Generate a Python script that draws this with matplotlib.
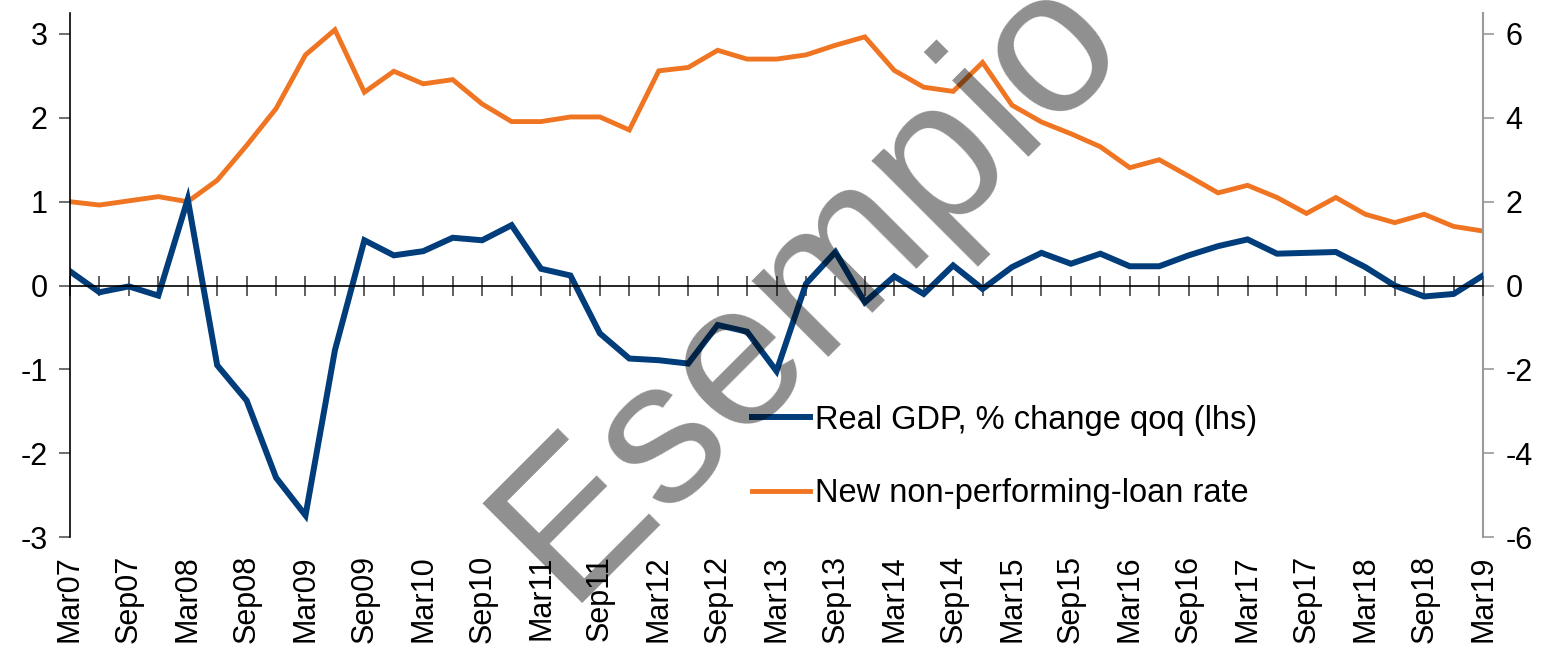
import matplotlib
matplotlib.use('Agg')
import matplotlib.pyplot as plt
from matplotlib.ticker import MultipleLocator

plt.rcParams['font.family'] = ['Liberation Sans', 'DejaVu Sans']
plt.rcParams['axes.unicode_minus'] = False

labels = ["Mar07", "Sep07", "Mar08", "Sep08", "Mar09", "Sep09", "Mar10", "Sep10",
          "Mar11", "Sep11", "Mar12", "Sep12", "Mar13", "Sep13", "Mar14", "Sep14",
          "Mar15", "Sep15", "Mar16", "Sep16", "Mar17", "Sep17", "Mar18", "Sep18",
          "Mar19"]

gdp = [0.17, -0.08, -0.01, -0.12, 1.03, -0.95, -1.37, -2.29, -2.74, -0.77,
       0.54, 0.36, 0.41, 0.57, 0.54, 0.72, 0.20, 0.12, -0.57, -0.87,
       -0.89, -0.93, -0.47, -0.55, -1.02, 0.02, 0.40, -0.20, 0.11, -0.10,
       0.24, -0.04, 0.22, 0.39, 0.26, 0.38, 0.23, 0.23, 0.36, 0.47,
       0.55, 0.38, 0.39, 0.40, 0.22, 0.00, -0.13, -0.10, 0.12]

npl = [2.00, 1.92, 2.02, 2.12, 2.00, 2.51, 3.34, 4.22, 5.50, 6.10,
       4.61, 5.11, 4.81, 4.91, 4.33, 3.91, 3.91, 4.02, 4.02, 3.71,
       5.12, 5.20, 5.61, 5.40, 5.40, 5.50, 5.73, 5.93, 5.13, 4.73,
       4.63, 5.32, 4.30, 3.90, 3.62, 3.31, 2.81, 3.00, 2.61, 2.21,
       2.39, 2.10, 1.72, 2.10, 1.70, 1.50, 1.70, 1.41, 1.30]

x = list(range(len(gdp)))
BLUE = '#003d7a'
ORANGE = '#f07522'
FS = 22

fig = plt.figure(figsize=(15.45, 6.48), dpi=100)
ax = fig.add_axes([0.0453, 0.171, 0.9146, 0.809])
ax2 = ax.twinx()
ax.set_zorder(ax2.get_zorder() + 1)
ax.patch.set_visible(False)

l2, = ax2.plot(x, npl, color=ORANGE, lw=3.5, solid_joinstyle='miter', label='New non-performing-loan rate')
l1, = ax.plot(x, gdp, color=BLUE, lw=4.3, solid_joinstyle='miter', label='Real GDP, % change qoq (lhs)')

ax.set_xlim(0, 48)
ax.set_ylim(-3, 3.25)
ax2.set_ylim(-6, 6.5)
ax.set_yticks([-3, -2, -1, 0, 1, 2, 3])
ax2.set_yticks([-6, -4, -2, 0, 2, 4, 6])

for s in ['top', 'right']:
    ax.spines[s].set_visible(False)
for s in ['top', 'left', 'bottom']:
    ax2.spines[s].set_visible(False)
ax.spines['bottom'].set_position(('data', 0))
ax.spines['bottom'].set_color('black')
ax.spines['bottom'].set_linewidth(1.2)
ax.spines['left'].set_color('black')
ax.spines['left'].set_linewidth(1.2)
ax2.spines['right'].set_color('#999999')
ax2.spines['right'].set_linewidth(1.5)

ax.xaxis.set_major_locator(MultipleLocator(1))
ax.tick_params(axis='x', direction='inout', length=14, width=1.2, color='#444444',
               labelbottom=False)
ax.tick_params(axis='y', direction='out', length=8, width=1.2, color='#555555',
               labelsize=FS, pad=8)
ax2.tick_params(axis='y', direction='out', length=8, width=1.2, color='#999999',
                labelsize=FS, pad=8)

sec = ax.secondary_xaxis('bottom')
sec.set_xticks(list(range(0, len(gdp), 2)))
sec.set_xticklabels(labels, rotation=90, fontsize=FS)
sec.tick_params(axis='x', length=0, pad=13)
sec.spines['bottom'].set_visible(False)

ax.legend(handles=[l1, l2], loc='center left', bbox_to_anchor=(0.483, 0.153),
          frameon=False, fontsize=23.5, handlelength=1.75, handletextpad=0.15,
          labelspacing=1.3, borderpad=0, borderaxespad=0)

fig.text(0.3663, 0.0694, 'Esempio', fontsize=147, rotation=45, color='black', alpha=0.44,
         ha='left', va='baseline', rotation_mode='anchor', zorder=10)

fig.savefig('out.png', dpi=100)
